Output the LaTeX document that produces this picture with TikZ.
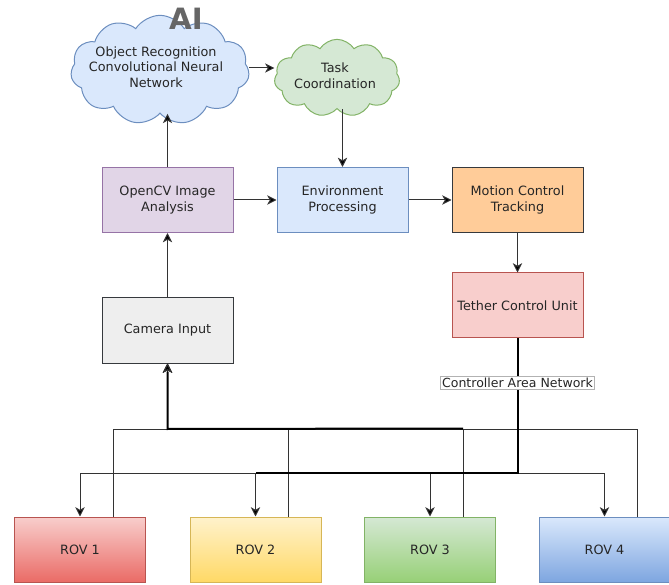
\documentclass[tikz,border=0pt]{standalone}
\usepackage{fontspec}
\setmainfont{DejaVu Sans}
\usetikzlibrary{shapes.symbols,arrows.meta,calc}
\definecolor{blueF}{HTML}{DAE8FC}\definecolor{blueD}{HTML}{6C8EBF}
\definecolor{greenF}{HTML}{D5E8D4}\definecolor{greenD}{HTML}{82B366}
\definecolor{purpF}{HTML}{E1D5E7}\definecolor{purpD}{HTML}{9673A6}
\definecolor{orangeF}{HTML}{FFCC99}\definecolor{darkD}{HTML}{36393D}
\definecolor{grayF}{HTML}{EEEEEE}
\definecolor{redF}{HTML}{F8CECC}\definecolor{redD}{HTML}{B85450}\definecolor{redB}{HTML}{EA6B66}
\definecolor{yelF}{HTML}{FFF2CC}\definecolor{yelD}{HTML}{D6B656}\definecolor{yelB}{HTML}{FFD966}
\definecolor{greenB}{HTML}{97D077}\definecolor{blueB}{HTML}{7EA6E0}
\definecolor{lineC}{HTML}{333333}
\begin{document}
\begin{tikzpicture}[x=0.75pt,y=-0.75pt,
  every node/.style={font=\fontsize{9.6}{11.8}\selectfont, text=black!85},
  box/.style={draw, line width=0.75pt, minimum width=98.25pt, minimum height=48.75pt, align=center, inner sep=0pt},
  cloudbox/.style={cloud, draw, line width=0.75pt, cloud puffs=11, cloud puff arc=115, aspect=1.6, inner sep=0pt},
  arr/.style={draw=lineC, line width=0.75pt, -{Stealth[length=7pt,width=7pt,inset=2pt,fill=black]}},
  thickln/.style={draw=black, line width=1.5pt},
  rov/.style={box}
]
\useasboundingbox (0,0) rectangle (669,585);

% clouds
\node[cloudbox, fill=blueF, draw=blueD, minimum width=134pt, minimum height=82pt] (cloudA) at (160,70) {};
\node[align=center] (cloudAtxt) at (156,67) {Object Recognition\\Convolutional Neural\\Network};
\node[font=\bfseries\fontsize{22}{24}\selectfont, text=black!60] (ai) at (186,19) {AI};
\node[cloudbox, fill=greenF, draw=greenD, minimum width=94pt, minimum height=58pt] (cloudB) at (337,78) {};
\node[align=center] (cloudBtxt) at (335,76) {Task\\Coordination};

% boxes
\node[box, fill=purpF, draw=purpD] (opencv) at (167.5,200) {OpenCV Image\\Analysis};
\node[box, fill=blueF, draw=blueD] (env) at (342.5,200) {Environment\\Processing};
\node[box, fill=orangeF, draw=darkD] (motion) at (517.5,200) {Motion Control\\Tracking};
\node[box, fill=grayF, draw=darkD] (camera) at (167.5,330.5) {Camera Input};
\node[box, fill=redF, draw=redD] (tether) at (517.5,305.5) {Tether Control Unit};

% ROVs
\node[rov, top color=redF, bottom color=redB, draw=redD] (rov1) at (80,549.5) {ROV 1};
\node[rov, top color=yelF, bottom color=yelB, draw=yelD] (rov2) at (255.5,549.5) {ROV 2};
\node[rov, top color=greenF, bottom color=greenB, draw=greenD] (rov3) at (430,549.5) {ROV 3};
\node[rov, top color=blueF, bottom color=blueB, draw=blueD] (rov4) at (604.5,549.5) {ROV 4};

% upper connectors
\draw[arr] (cloudA.east |- 0,68) -- (cloudB.west |- 0,68);
\draw[arr] (env.north |- cloudB.south) -- (env.north);
\draw[arr] (opencv.north) -- (opencv.north |- cloudA.south);
\draw[arr] (opencv.east) -- (env.west);
\draw[arr] (env.east) -- (motion.west);
\draw[arr] (camera.north) -- (opencv.south);
\draw[arr] (motion.south) -- (tether.north);

% bus coordinates
\coordinate (busA) at (167.5,429);
\coordinate (busB) at (517.5,473);

% ROV -> camera
\foreach \r in {rov1,rov2,rov3,rov4}{
  \draw[arr] ($(\r.north)!0.5!(\r.north east)$) |- (busA) -- (camera.south);
}
\draw[thickln] (camera.south) ++(0,8) -- (busA) -- ($(rov3.north)!0.5!(rov3.north east) + (0,-88)$);

% tether -> ROVs
\foreach \r in {rov1,rov2,rov3,rov4}{
  \draw[arr] (busB) -| (\r.north);
}
\draw[thickln] (tether.south) -- (busB) -- (busB -| rov2.north);
\node[draw=black!30, line width=0.5pt, fill=white, inner xsep=1pt, inner ysep=1pt, font=\fontsize{9.4}{11}\selectfont] (can) at (517.5,383) {Controller Area Network};
\end{tikzpicture}
\end{document}
